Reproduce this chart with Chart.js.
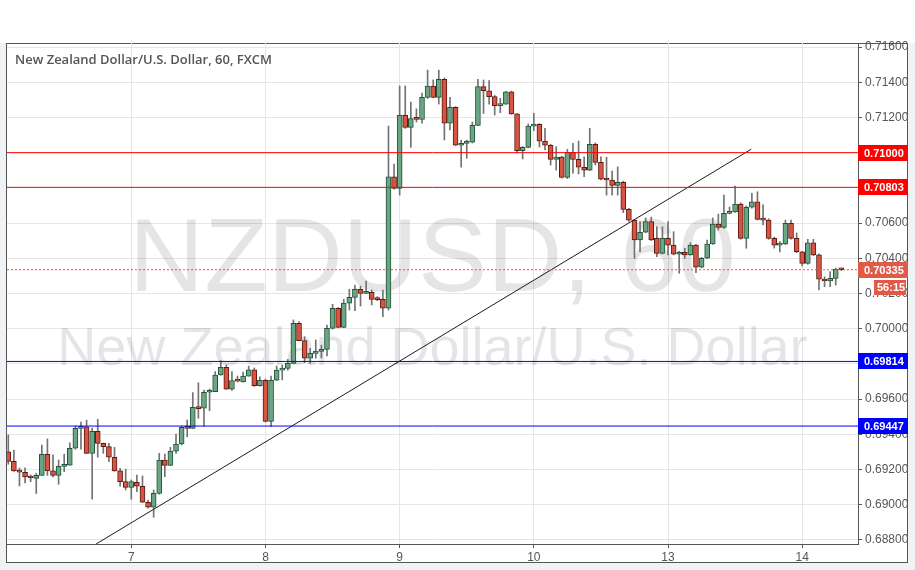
<!DOCTYPE html>
<html>
<head>
<meta charset="utf-8">
<script src="https://cdn.jsdelivr.net/npm/chart.js@4.4.1/dist/chart.umd.min.js"></script>
<style>
    html, body { margin: 0; padding: 0; background: #f0f3f6; }
    canvas { display: block; }
</style>
</head>
<body>
<canvas id="nzdChart" width="915" height="570"></canvas>
<script>
// hourly candles, NZD/USD, 6th 02:00 .. 14th 07:00
const opens = [
    0.69300, 0.69246, 0.69190, 0.69184, 0.69156, 0.69150, 0.69167, 0.69287, 0.69192, 0.69167,
    0.69218, 0.69225, 0.69321, 0.69434, 0.69443, 0.69292, 0.69417, 0.69349, 0.69330, 0.69270,
    0.69192, 0.69131, 0.69099, 0.69128, 0.69105, 0.69014, 0.68986, 0.69065, 0.69254, 0.69224,
    0.69305, 0.69345, 0.69443, 0.69434, 0.69552, 0.69548, 0.69639, 0.69642, 0.69737, 0.69781,
    0.69656, 0.69707, 0.69698, 0.69731, 0.69767, 0.69676, 0.69707, 0.69474, 0.69707, 0.69765,
    0.69775, 0.69803, 0.70031, 0.69932, 0.69832, 0.69860, 0.69871, 0.69883, 0.70002, 0.70116,
    0.70008, 0.70145, 0.70178, 0.70224, 0.70201, 0.70207, 0.70167, 0.70167, 0.70116, 0.70863,
    0.70797, 0.71212, 0.71144, 0.71193, 0.71189, 0.71314, 0.71378, 0.71314, 0.71417, 0.71167,
    0.71258, 0.71042, 0.71053, 0.71060, 0.71155, 0.71375, 0.71352, 0.71318, 0.71267, 0.71276,
    0.71346, 0.71220, 0.71011, 0.71030, 0.71151, 0.71161, 0.71066, 0.71042, 0.70962, 0.70975,
    0.70860, 0.71002, 0.70962, 0.70917, 0.70900, 0.71047, 0.70945, 0.70849, 0.70845, 0.70814,
    0.70832, 0.70678, 0.70617, 0.70504, 0.70548, 0.70608, 0.70513, 0.70428, 0.70513, 0.70475,
    0.70423, 0.70434, 0.70419, 0.70475, 0.70349, 0.70400, 0.70481, 0.70595, 0.70576, 0.70655,
    0.70663, 0.70708, 0.70513, 0.70690, 0.70721, 0.70621, 0.70617, 0.70513, 0.70475, 0.70481,
    0.70599, 0.70513, 0.70437, 0.70371, 0.70488, 0.70419, 0.70281, 0.70271, 0.70286, 0.70340
];
const highs = [
    0.69396, 0.69311, 0.69209, 0.69209, 0.69169, 0.69179, 0.69339, 0.69374, 0.69283, 0.69254,
    0.69287, 0.69352, 0.69447, 0.69470, 0.69480, 0.69436, 0.69485, 0.69350, 0.69349, 0.69326,
    0.69207, 0.69202, 0.69141, 0.69169, 0.69163, 0.69027, 0.69084, 0.69292, 0.69288, 0.69326,
    0.69402, 0.69446, 0.69481, 0.69637, 0.69693, 0.69652, 0.69657, 0.69756, 0.69818, 0.69794,
    0.69756, 0.69731, 0.69754, 0.69788, 0.69777, 0.69727, 0.69714, 0.69731, 0.69788, 0.69794,
    0.69826, 0.70050, 0.70040, 0.69955, 0.69889, 0.69936, 0.69907, 0.70021, 0.70139, 0.70120,
    0.70167, 0.70224, 0.70248, 0.70242, 0.70271, 0.70220, 0.70182, 0.70220, 0.71151, 0.70935,
    0.71379, 0.71379, 0.71288, 0.71249, 0.71339, 0.71469, 0.71413, 0.71469, 0.71424, 0.71314,
    0.71262, 0.71072, 0.71072, 0.71174, 0.71417, 0.71413, 0.71409, 0.71325, 0.71309, 0.71348,
    0.71350, 0.71222, 0.71035, 0.71163, 0.71223, 0.71165, 0.71138, 0.71048, 0.71034, 0.70980,
    0.71019, 0.71053, 0.71066, 0.70977, 0.71138, 0.71055, 0.70977, 0.70974, 0.70896, 0.70920,
    0.70838, 0.70684, 0.70620, 0.70608, 0.70629, 0.70634, 0.70579, 0.70579, 0.70608, 0.70551,
    0.70440, 0.70457, 0.70488, 0.70480, 0.70405, 0.70504, 0.70629, 0.70651, 0.70759, 0.70691,
    0.70810, 0.70715, 0.70697, 0.70769, 0.70778, 0.70703, 0.70625, 0.70520, 0.70495, 0.70617,
    0.70617, 0.70544, 0.70440, 0.70508, 0.70508, 0.70425, 0.70295, 0.70324, 0.70345, 0.70345
];
const lows = [
    0.69230, 0.69190, 0.69107, 0.69124, 0.69131, 0.69064, 0.69166, 0.69167, 0.69158, 0.69116,
    0.69188, 0.69224, 0.69315, 0.69315, 0.69290, 0.69031, 0.69270, 0.69292, 0.69245, 0.69190,
    0.69105, 0.69084, 0.69031, 0.69074, 0.69012, 0.68980, 0.68929, 0.69060, 0.69159, 0.69222,
    0.69292, 0.69339, 0.69386, 0.69433, 0.69491, 0.69447, 0.69534, 0.69642, 0.69735, 0.69655,
    0.69650, 0.69697, 0.69697, 0.69730, 0.69672, 0.69673, 0.69470, 0.69443, 0.69705, 0.69709,
    0.69765, 0.69802, 0.69932, 0.69807, 0.69803, 0.69832, 0.69834, 0.69845, 0.69998, 0.70004,
    0.70006, 0.70106, 0.70102, 0.70129, 0.70199, 0.70135, 0.70159, 0.70068, 0.70106, 0.70792,
    0.70759, 0.71138, 0.71030, 0.71174, 0.71167, 0.71308, 0.71312, 0.71276, 0.71072, 0.71129,
    0.71040, 0.70917, 0.70968, 0.71055, 0.71153, 0.71223, 0.71276, 0.71214, 0.71227, 0.71274,
    0.71218, 0.70999, 0.70964, 0.71028, 0.71125, 0.71032, 0.71015, 0.70930, 0.70901, 0.70856,
    0.70853, 0.70883, 0.70879, 0.70863, 0.70898, 0.70930, 0.70845, 0.70759, 0.70759, 0.70759,
    0.70659, 0.70610, 0.70400, 0.70437, 0.70545, 0.70500, 0.70409, 0.70425, 0.70419, 0.70419,
    0.70315, 0.70400, 0.70417, 0.70318, 0.70345, 0.70398, 0.70479, 0.70561, 0.70570, 0.70652,
    0.70660, 0.70508, 0.70457, 0.70685, 0.70618, 0.70589, 0.70508, 0.70458, 0.70436, 0.70478,
    0.70508, 0.70432, 0.70356, 0.70366, 0.70415, 0.70220, 0.70239, 0.70239, 0.70248, 0.70330
];
const closes = [
    0.69246, 0.69192, 0.69185, 0.69158, 0.69152, 0.69167, 0.69287, 0.69192, 0.69167, 0.69218,
    0.69226, 0.69321, 0.69434, 0.69443, 0.69292, 0.69417, 0.69349, 0.69330, 0.69270, 0.69192,
    0.69131, 0.69099, 0.69131, 0.69105, 0.69014, 0.68986, 0.69065, 0.69254, 0.69224, 0.69305,
    0.69345, 0.69440, 0.69434, 0.69554, 0.69546, 0.69639, 0.69646, 0.69737, 0.69781, 0.69656,
    0.69706, 0.69702, 0.69731, 0.69767, 0.69676, 0.69707, 0.69474, 0.69707, 0.69765, 0.69775,
    0.69803, 0.70031, 0.69932, 0.69832, 0.69860, 0.69873, 0.69883, 0.70002, 0.70116, 0.70008,
    0.70145, 0.70178, 0.70224, 0.70201, 0.70207, 0.70167, 0.70165, 0.70116, 0.70863, 0.70797,
    0.71212, 0.71144, 0.71193, 0.71189, 0.71314, 0.71378, 0.71314, 0.71417, 0.71167, 0.71258,
    0.71042, 0.71053, 0.71060, 0.71155, 0.71375, 0.71352, 0.71318, 0.71267, 0.71276, 0.71346,
    0.71220, 0.71011, 0.71030, 0.71151, 0.71161, 0.71066, 0.71042, 0.70962, 0.70975, 0.70860,
    0.71002, 0.70962, 0.70917, 0.70900, 0.71047, 0.70945, 0.70849, 0.70845, 0.70814, 0.70832,
    0.70678, 0.70617, 0.70504, 0.70548, 0.70608, 0.70504, 0.70428, 0.70513, 0.70475, 0.70423,
    0.70434, 0.70419, 0.70475, 0.70349, 0.70400, 0.70481, 0.70595, 0.70576, 0.70655, 0.70663,
    0.70708, 0.70513, 0.70690, 0.70721, 0.70621, 0.70617, 0.70513, 0.70475, 0.70481, 0.70599,
    0.70513, 0.70437, 0.70371, 0.70488, 0.70419, 0.70281, 0.70271, 0.70286, 0.70337, 0.70335
];

// candle index of each day's 00:00 bar and its label
const dayTicks = [22, 46, 70, 94, 118, 142];
const dayLabels = ['7', '8', '9', '10', '13', '14'];
const priceTicks = [0.688, 0.690, 0.692, 0.694, 0.696, 0.698, 0.700, 0.702,
    0.704, 0.706, 0.708, 0.710, 0.712, 0.714, 0.716];

// horizontal levels drawn on the chart
const levelPrices = [0.71000, 0.70803, 0.69814, 0.69447];
const levelColors = ['#ff0000', '#ff0000', '#0000ff', '#0000ff'];
const lastPrice = 0.70335;
const barCountdown = '56:15';

// trend line anchors (candle index, price)
const trendX = [15.7, 132.9];
const trendY = [0.68777, 0.71020];

const X_MIN = -0.23, X_MAX = 151.98;
const Y_MIN = 0.68777, Y_MAX = 0.71623;

const UP = '#6ba583', UP_EDGE = '#225437';
const DOWN = '#d75442', DOWN_EDGE = '#5b1a13';
const WICK = '#737375';
const LAST_COLOR = '#df5b47';
const AXIS_FONT = "'Liberation Sans', Arial, sans-serif";

const isUp = i => closes[i] >= opens[i];

const decor = {
    id: 'decor',
    beforeDraw(chart) {
        const {ctx, width, height} = chart;
        ctx.save();
        ctx.fillStyle = '#f0f3f6';
        ctx.fillRect(0, 0, width, height);
        ctx.fillStyle = '#ffffff';
        ctx.fillRect(0, 0, width, 43);
        ctx.fillRect(6, 43, 902, 520);
        ctx.strokeStyle = '#555555';
        ctx.lineWidth = 1;
        ctx.strokeRect(6.5, 43.5, 901, 519);
        ctx.restore();
    },
    beforeDatasetsDraw(chart) {
        const {ctx, chartArea: a} = chart;
        const cx = (a.left + a.right) / 2;
        ctx.save();
        ctx.beginPath();
        ctx.rect(a.left, a.top, a.right - a.left, a.bottom - a.top);
        ctx.clip();
        ctx.fillStyle = 'rgba(0, 0, 0, 0.1)';
        ctx.textAlign = 'center';
        ctx.textBaseline = 'middle';
        ctx.font = "104px 'Liberation Sans', Arial, sans-serif";
        ctx.fillText('NZDUSD, 60', cx, 262);
        ctx.font = "54px 'Liberation Sans', Arial, sans-serif";
        ctx.fillText('New Zealand Dollar/U.S. Dollar', cx, 350);
        ctx.restore();
    },
    afterDraw(chart) {
        const {ctx, chartArea: a} = chart;
        const y = chart.scales.y;
        ctx.save();
        ctx.fillStyle = '#555555';
        ctx.font = "600 13px 'Open Sans', sans-serif";
        ctx.textAlign = 'left';
        ctx.textBaseline = 'middle';
        ctx.fillText('New Zealand Dollar/U.S. Dollar, 60, FXCM', 15, 60);

        const tag = (value, color, text) => {
            const py = Math.round(y.getPixelForValue(value));
            ctx.fillStyle = color;
            ctx.fillRect(a.right, py - 8, 50, 16);
            ctx.fillStyle = '#ffffff';
            ctx.font = 'bold 11px ' + AXIS_FONT;
            ctx.fillText(text, a.right + 6, py + 0.5);
        };
        levelPrices.forEach((p, k) => tag(p, levelColors[k], p.toFixed(5)));
        tag(lastPrice, LAST_COLOR, lastPrice.toFixed(5));

        const py = Math.round(y.getPixelForValue(lastPrice));
        ctx.fillStyle = LAST_COLOR;
        ctx.fillRect(a.right + 16, py + 10, 32, 15);
        ctx.fillStyle = '#ffffff';
        ctx.font = 'bold 11px ' + AXIS_FONT;
        ctx.fillText(barCountdown, a.right + 19, py + 18);
        ctx.restore();
    }
};

const levelSets = levelPrices.map((p, k) => ({
    type: 'line',
    data: [{x: X_MIN, y: p}, {x: X_MAX, y: p}],
    borderColor: levelColors[k],
    borderWidth: 1,
    pointRadius: 0,
    order: 0
}));

new Chart(document.getElementById('nzdChart'), {
    type: 'bar',
    data: {
        datasets: [
            ...levelSets,
            {
                type: 'line',
                data: [{x: X_MIN, y: lastPrice}, {x: X_MAX, y: lastPrice}],
                borderColor: LAST_COLOR,
                borderWidth: 1,
                borderDash: [2, 2],
                pointRadius: 0,
                order: 0
            },
            {
                type: 'line',
                data: trendX.map((x, k) => ({x, y: trendY[k]})),
                borderColor: '#1b1b1b',
                borderWidth: 1,
                pointRadius: 0,
                order: 0
            },
            {
                label: 'wick',
                data: opens.map((o, i) => ({x: i, y: [lows[i], highs[i]]})),
                backgroundColor: WICK,
                barThickness: 1,
                grouped: false,
                order: 3
            },
            {
                label: 'body',
                data: opens.map((o, i) => ({x: i, y: [o, closes[i]]})),
                backgroundColor: ctx => isUp(ctx.dataIndex) ? UP : DOWN,
                borderColor: ctx => isUp(ctx.dataIndex) ? UP_EDGE : DOWN_EDGE,
                borderWidth: 1,
                borderSkipped: false,
                barThickness: 5,
                minBarLength: 2,
                grouped: false,
                order: 2
            }
        ]
    },
    options: {
        responsive: false,
        animation: false,
        layout: {padding: {left: 7, top: 43, right: 7, bottom: 7}},
        plugins: {
            legend: {display: false},
            tooltip: {enabled: false}
        },
        scales: {
            x: {
                type: 'linear',
                min: X_MIN,
                max: X_MAX,
                offset: false,
                grid: {color: '#e6e6e6', tickColor: '#555555', tickLength: 4, offset: false},
                border: {color: '#555555'},
                afterBuildTicks: scale => {
                    scale.ticks = dayTicks.map(v => ({value: v}));
                },
                afterFit: scale => {
                    scale.height = 19;
                },
                ticks: {
                    autoSkip: false,
                    maxRotation: 0,
                    padding: 2,
                    color: '#555555',
                    font: {family: AXIS_FONT, size: 12},
                    callback: value => dayLabels[dayTicks.indexOf(value)] || ''
                }
            },
            y: {
                type: 'linear',
                position: 'right',
                min: Y_MIN,
                max: Y_MAX,
                grid: {color: '#e6e6e6', tickColor: '#555555', tickLength: 4},
                border: {color: '#555555'},
                afterBuildTicks: scale => {
                    scale.ticks = priceTicks.map(v => ({value: v}));
                },
                afterFit: scale => {
                    scale.width = 50;
                },
                ticks: {
                    padding: 3,
                    color: '#555555',
                    font: {family: AXIS_FONT, size: 12},
                    callback: value => value.toFixed(5)
                }
            }
        }
    },
    plugins: [decor]
});
</script>
</body>
</html>
